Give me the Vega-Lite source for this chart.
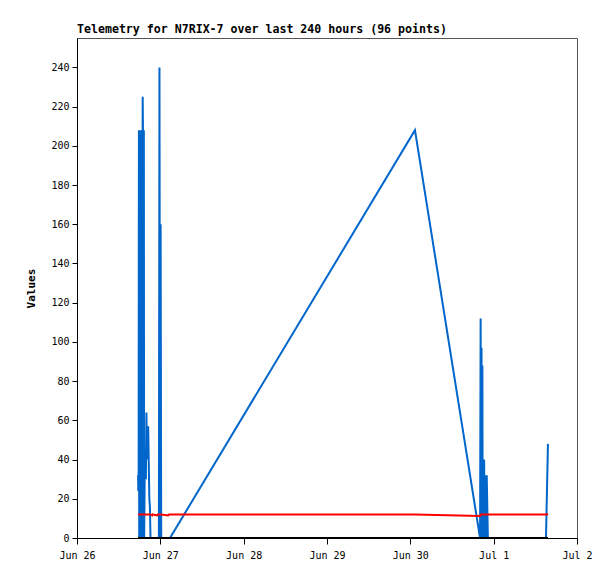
{
  "$schema": "https://vega.github.io/schema/vega-lite/v6.json",
  "width": 500,
  "height": 500,
  "autosize": {"type": "none"},
  "padding": {"left": 77, "top": 38, "right": 38, "bottom": 41},
  "background": "white",
  "title": {
    "text": "Telemetry for N7RIX-7 over last 240 hours (96 points)",
    "anchor": "start",
    "frame": "group",
    "font": "DejaVu Sans Mono",
    "fontSize": 11.6,
    "fontWeight": "bold",
    "color": "#000",
    "offset": 2
  },
  "data": {
    "values": [
      {"time": "2024-06-26T17:35", "a": 32, "b": 12, "c": 0},
      {"time": "2024-06-26T17:40", "a": 24, "b": 12, "c": 0},
      {"time": "2024-06-26T17:45", "a": 30, "b": 12, "c": 0},
      {"time": "2024-06-26T17:50", "a": 208, "b": 12, "c": 0},
      {"time": "2024-06-26T17:55", "a": 0, "b": 12, "c": 0},
      {"time": "2024-06-26T18:00", "a": 208, "b": 12, "c": 0},
      {"time": "2024-06-26T18:05", "a": 20, "b": 12, "c": 0},
      {"time": "2024-06-26T18:10", "a": 208, "b": 12, "c": 0},
      {"time": "2024-06-26T18:15", "a": 30, "b": 12, "c": 0},
      {"time": "2024-06-26T18:25", "a": 208, "b": 12, "c": 0},
      {"time": "2024-06-26T18:30", "a": 0, "b": 12, "c": 0},
      {"time": "2024-06-26T18:40", "a": 208, "b": 12, "c": 0},
      {"time": "2024-06-26T18:45", "a": 0, "b": 12, "c": 0},
      {"time": "2024-06-26T18:55", "a": 225, "b": 12, "c": 0},
      {"time": "2024-06-26T19:00", "a": 208, "b": 12, "c": 0},
      {"time": "2024-06-26T19:05", "a": 20, "b": 12, "c": 0},
      {"time": "2024-06-26T19:15", "a": 208, "b": 12, "c": 0},
      {"time": "2024-06-26T19:20", "a": 0, "b": 12, "c": 0},
      {"time": "2024-06-26T19:30", "a": 32, "b": 12, "c": 0},
      {"time": "2024-06-26T19:40", "a": 45, "b": 12, "c": 0},
      {"time": "2024-06-26T19:50", "a": 30, "b": 12, "c": 0},
      {"time": "2024-06-26T20:00", "a": 64, "b": 12, "c": 0},
      {"time": "2024-06-26T20:05", "a": 50, "b": 12, "c": 0},
      {"time": "2024-06-26T20:10", "a": 57, "b": 12, "c": 0},
      {"time": "2024-06-26T20:20", "a": 40, "b": 12, "c": 0},
      {"time": "2024-06-26T20:30", "a": 57, "b": 12, "c": 0},
      {"time": "2024-06-26T20:40", "a": 38, "b": 12, "c": 0},
      {"time": "2024-06-26T20:50", "a": 20, "b": 12, "c": 0},
      {"time": "2024-06-26T21:00", "a": 16, "b": 12, "c": 0},
      {"time": "2024-06-26T21:10", "a": 0, "b": 12, "c": 0},
      {"time": "2024-06-26T21:40", "a": 0, "b": 11.5, "c": 0},
      {"time": "2024-06-26T21:50", "a": 0, "b": 12, "c": 0},
      {"time": "2024-06-26T23:05", "a": 0, "b": 11.5, "c": 0},
      {"time": "2024-06-26T23:15", "a": 0, "b": 12, "c": 0},
      {"time": "2024-06-26T23:35", "a": 0, "b": 12, "c": 0},
      {"time": "2024-06-26T23:45", "a": 240, "b": 12, "c": 0},
      {"time": "2024-06-26T23:55", "a": 0, "b": 12, "c": 0},
      {"time": "2024-06-27T00:05", "a": 160, "b": 12, "c": 0},
      {"time": "2024-06-27T00:15", "a": 0, "b": 12, "c": 0},
      {"time": "2024-06-27T02:15", "a": 0, "b": 11.5, "c": 0},
      {"time": "2024-06-27T02:30", "a": 0, "b": 12, "c": 0},
      {"time": "2024-06-27T02:47", "a": 0, "b": 12, "c": 0},
      {"time": "2024-06-30T01:20", "a": 208, "b": 12, "c": 0},
      {"time": "2024-06-30T20:05", "a": 0, "b": 11.2, "c": 0},
      {"time": "2024-06-30T20:15", "a": 112, "b": 12, "c": 0},
      {"time": "2024-06-30T20:20", "a": 0, "b": 12, "c": 0},
      {"time": "2024-06-30T20:30", "a": 97, "b": 12, "c": 0},
      {"time": "2024-06-30T20:35", "a": 20, "b": 12, "c": 0},
      {"time": "2024-06-30T20:45", "a": 88, "b": 12, "c": 0},
      {"time": "2024-06-30T20:50", "a": 0, "b": 12, "c": 0},
      {"time": "2024-06-30T21:00", "a": 40, "b": 12, "c": 0},
      {"time": "2024-06-30T21:05", "a": 10, "b": 12, "c": 0},
      {"time": "2024-06-30T21:15", "a": 40, "b": 12, "c": 0},
      {"time": "2024-06-30T21:25", "a": 0, "b": 12, "c": 0},
      {"time": "2024-06-30T21:40", "a": 32, "b": 12, "c": 0},
      {"time": "2024-06-30T21:50", "a": 0, "b": 12, "c": 0},
      {"time": "2024-06-30T22:00", "a": 32, "b": 12, "c": 0},
      {"time": "2024-06-30T22:10", "a": 16, "b": 12, "c": 0},
      {"time": "2024-06-30T22:20", "a": 0, "b": 12, "c": 0},
      {"time": "2024-07-01T15:04", "a": 0, "b": 12, "c": 0},
      {"time": "2024-07-01T15:21", "a": 24, "b": 12, "c": 0},
      {"time": "2024-07-01T15:38", "a": 48, "b": 12.3, "c": 0}
    ]
  },
  "encoding": {
    "x": {
      "field": "time",
      "type": "temporal",
      "scale": {
        "domain": [
          {"year": 2024, "month": 6, "date": 26},
          {"year": 2024, "month": 7, "date": 2}
        ]
      },
      "axis": {
        "title": null,
        "format": "%b %-d",
        "tickCount": {"interval": "day", "step": 1},
        "grid": false,
        "labelFont": "DejaVu Sans Mono",
        "labelFontSize": 10,
        "labelColor": "#000",
        "labelPadding": 6,
        "tickColor": "#000",
        "tickSize": 6,
        "domainColor": "#000",
        "labelFlush": false
      }
    }
  },
  "layer": [
    {
      "mark": {"type": "line", "color": "#0066cc", "strokeWidth": 2, "interpolate": "linear"},
      "encoding": {
        "y": {
          "field": "a",
          "type": "quantitative",
          "scale": {"domain": [0, 255], "nice": false},
          "axis": {
            "title": "Values",
            "titleFont": "DejaVu Sans Mono",
            "titleFontSize": 11,
            "titleFontWeight": "bold",
            "titleColor": "#000",
            "titlePadding": 14,
            "values": [0, 20, 40, 60, 80, 100, 120, 140, 160, 180, 200, 220, 240],
            "grid": false,
            "labelFont": "DejaVu Sans Mono",
            "labelFontSize": 10,
            "labelColor": "#000",
            "labelPadding": 3,
            "tickColor": "#000",
            "tickSize": 5,
            "domainColor": "#000"
          }
        }
      }
    },
    {
      "mark": {"type": "line", "color": "#ff0000", "strokeWidth": 2},
      "encoding": {"y": {"field": "b", "type": "quantitative"}}
    },
    {
      "mark": {"type": "line", "color": "#000000", "strokeWidth": 2},
      "encoding": {"y": {"field": "c", "type": "quantitative"}}
    }
  ],
  "config": {
    "view": {"stroke": "#555", "strokeWidth": 1}
  }
}
